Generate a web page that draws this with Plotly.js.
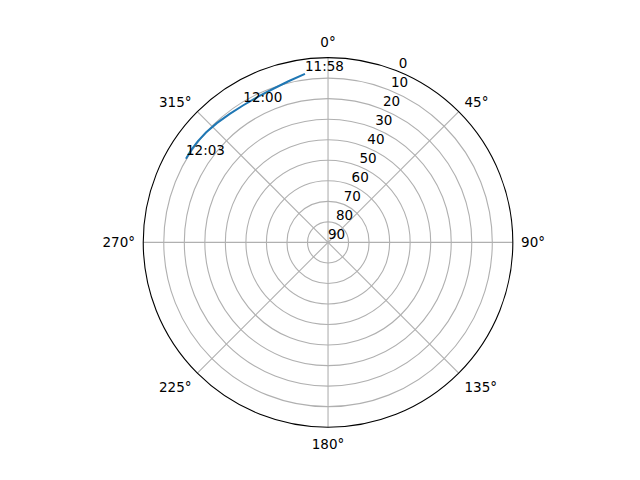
<!DOCTYPE html>
<html>
<head>
<meta charset="utf-8">
<script src="https://cdn.plot.ly/plotly-3.0.1.min.js"></script>
<style>
  body { margin: 0; background: #fff; }
  #plot { width: 640px; height: 480px; }
</style>
</head>
<body>
<div id="plot"></div>
<script>
// pass track, every 30 seconds
var times     = ['11:58:00', '11:58:30', '11:59:00', '11:59:30', '12:00:00', '12:00:30',
                 '12:01:00', '12:01:30', '12:02:00', '12:02:30', '12:03:00'];
var azimuth   = [352.2, 346.2, 340.2, 334.2, 328.3, 322.6, 317.0, 312.0, 307.8, 304.0, 300.5];
var elevation = [7.2, 9.2, 10.6, 11.3, 11.5, 11.2, 10.6, 10.0, 9.7, 9.6, 9.7];

// which points get a time label
var labelIdx  = [0, 4, 10];
var labelText = ['11:58', '12:00', '12:03'];

var azTicks   = [0, 45, 90, 135, 180, 225, 270, 315];
var azLabels  = ['0°', '45°', '90°', '135°', '180°', '225°', '270°', '315°'];
var elevTicks = [0, 10, 20, 30, 40, 50, 60, 70, 80, 90];

var labTheta = labelIdx.map(function (i) { return azimuth[i]; });
var labR     = labelIdx.map(function (i) { return elevation[i]; });

var track = {
    type: 'scatterpolar',
    mode: 'lines',
    theta: azimuth,
    r: elevation,
    text: times,
    line: { color: '#1f77b4', width: 2 },
    hoverinfo: 'text'
};

var labels = {
    type: 'scatterpolar',
    mode: 'text',
    theta: labTheta,
    r: labR,
    text: labelText,
    textposition: 'top right',
    textfont: { family: 'DejaVu Sans', size: 13.5, color: '#000' },
    hoverinfo: 'skip'
};

// radial labels drawn as text so they sit up-right of the 22.5° spoke
var elevLabels = {
    type: 'scatterpolar',
    mode: 'text',
    theta: elevTicks.map(function () { return 22.5; }),
    r: elevTicks,
    text: elevTicks.map(String),
    textposition: 'top right',
    textfont: { family: 'DejaVu Sans', size: 13.5, color: '#000' },
    hoverinfo: 'skip',
    cliponaxis: false
};

var layout = {
    width: 640,
    height: 480,
    showlegend: false,
    paper_bgcolor: '#fff',
    margin: { t: 0, b: 0, l: 0, r: 0 },
    font: { family: 'DejaVu Sans', size: 13.5, color: '#000' },
    polar: {
        domain: { x: [0.2238, 0.8013], y: [0.11, 0.88] },
        bgcolor: '#fff',
        angularaxis: {
            rotation: 90,
            direction: 'clockwise',
            tickmode: 'array',
            tickvals: azTicks,
            ticktext: azLabels,
            // invisible ticks just to push the labels out a bit
            ticks: 'outside',
            ticklen: 5,
            tickcolor: 'rgba(0,0,0,0)',
            showline: true,
            linecolor: '#000',
            linewidth: 1.1,
            gridcolor: '#b0b0b0',
            gridwidth: 1.1
        },
        radialaxis: {
            range: [90, 0],
            tickmode: 'array',
            tickvals: elevTicks,
            showticklabels: false,
            showline: false,
            ticks: '',
            gridcolor: '#b0b0b0',
            gridwidth: 1.1
        }
    }
};

Plotly.newPlot('plot', [track, labels, elevLabels], layout, { displayModeBar: false, staticPlot: true });
</script>
</body>
</html>
